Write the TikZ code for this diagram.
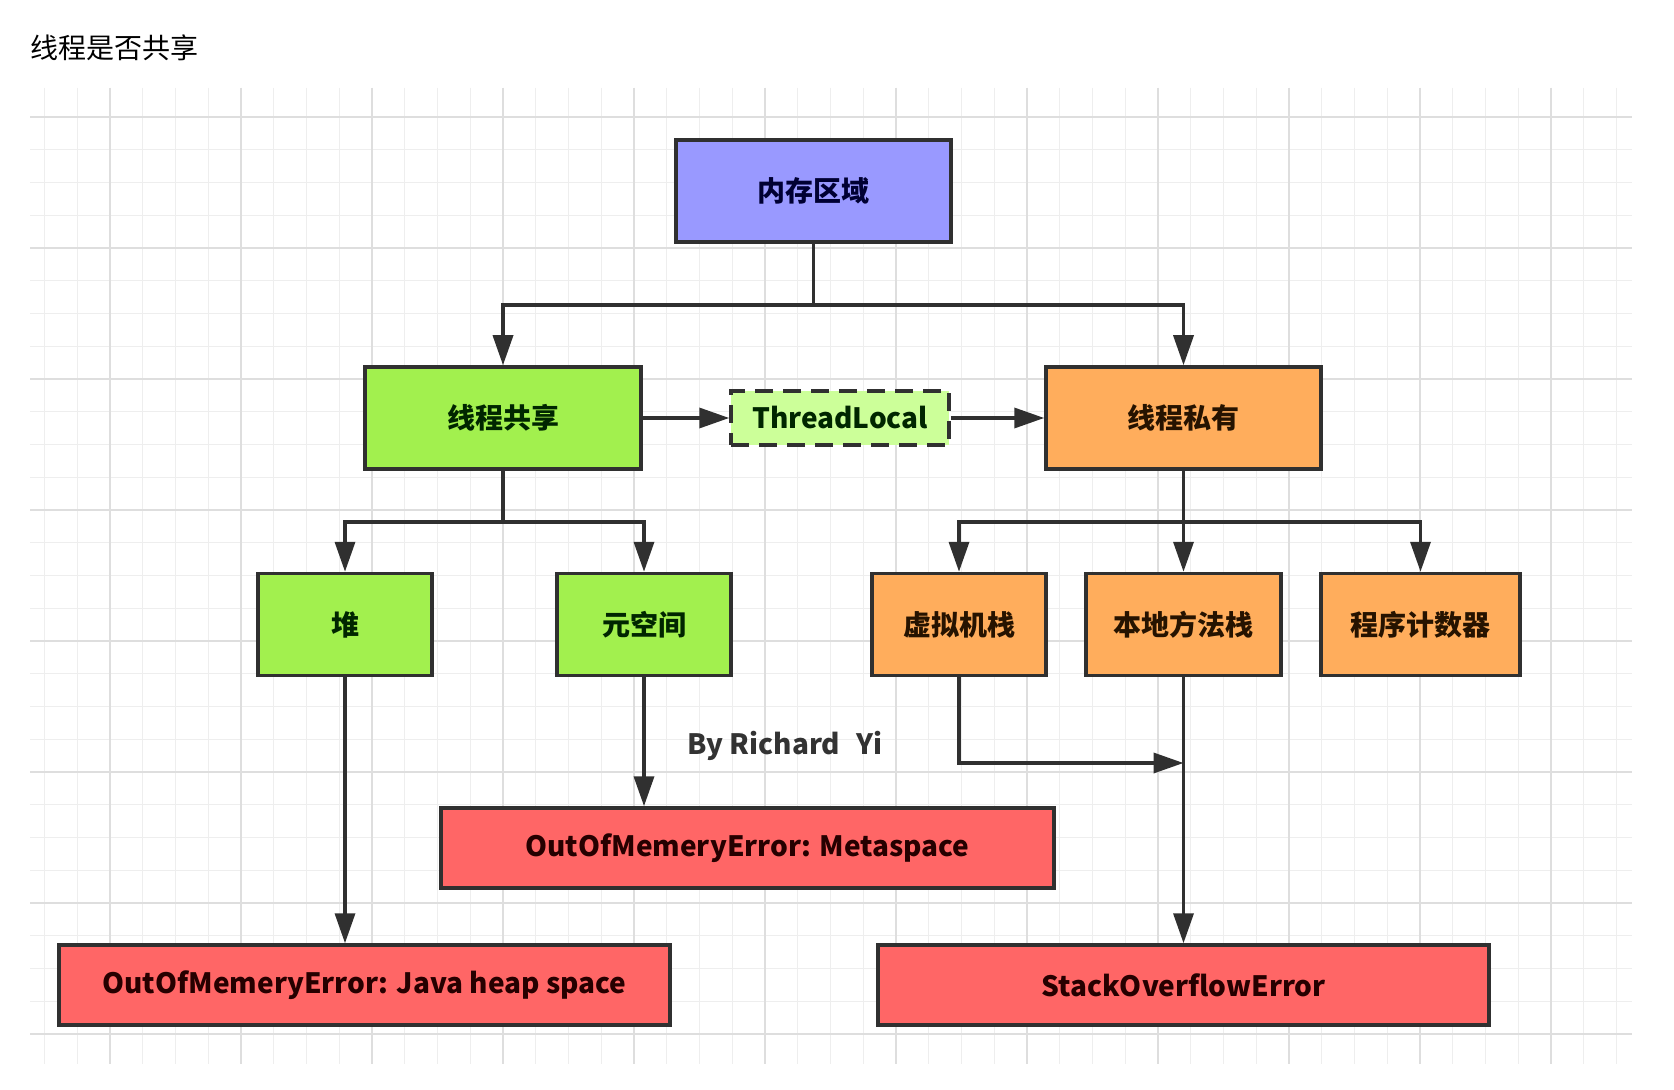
\documentclass[tikz,border=0pt]{standalone}
\usepackage{fontspec}
\setmainfont{Noto Sans CJK SC}
\usetikzlibrary{arrows.meta}
\definecolor{bluefill}{HTML}{9999FF}
\definecolor{greenfill}{HTML}{A2F04E}
\definecolor{lightgreen}{HTML}{CCFF99}
\definecolor{orangefill}{HTML}{FFAD5C}
\definecolor{redfill}{HTML}{FF6666}
\definecolor{edgecol}{HTML}{303030}
\definecolor{gridminor}{HTML}{EEEEEE}
\definecolor{gridmajor}{HTML}{DEDEDE}
\begin{document}
\begin{tikzpicture}[x=0.5pt,y=-0.5pt,
  box/.style={draw=edgecol,line width=1.75pt,rectangle,inner sep=0pt,
    font=\fontsize{14pt}{16pt}\selectfont\bfseries,minimum height=51pt},
  bluebox/.style={box,fill=bluefill,text=black!80!blue},
  greenbox/.style={box,fill=greenfill,text=black!85!green},
  orangebox/.style={box,fill=orangefill,text=black!85!orange},
  redbox/.style={box,fill=redfill,text=black!85!red,minimum height=40pt,minimum width=305.5pt},
  tlbox/.style={box,fill=lightgreen,text=black!85!green,dash pattern=on 9pt off 5pt,minimum height=27pt},
  conn/.style={draw=edgecol,line width=1.75pt},
  arr/.style={conn,-{Triangle[length=15pt,width=10pt]}},
  gmin/.style={draw=gridminor,line width=0.7pt},
  gmaj/.style={draw=gridmajor,line width=0.8pt}]
\useasboundingbox (0,0) rectangle (1674,1090);
\fill[white] (0,0) rectangle (1674,1090);
% grid
\foreach \i in {-2,...,46} \draw[gmin] ({110+32.75*\i},88) -- ({110+32.75*\i},1064);
\foreach \j in {0,...,28} \draw[gmin] (30,{117+32.75*\j}) -- (1632,{117+32.75*\j});
\foreach \i in {0,...,11} \draw[gmaj] ({110+131*\i},88) -- ({110+131*\i},1064);
\foreach \j in {0,...,7} \draw[gmaj] (30,{117+131*\j}) -- (1632,{117+131*\j});
% title
\node[anchor=west,font=\fontsize{14pt}{16pt}\selectfont,inner sep=0pt] (title) at (30,48) {线程是否共享};
% nodes
\node[bluebox,minimum width=137.5pt] (mem) at (813.5,191) {内存区域};
\node[greenbox,minimum width=138pt] (share) at (503,418) {线程共享};
\node[tlbox,minimum width=109pt] (tl) at (840,418) {ThreadLocal};
\node[orangebox,minimum width=137.5pt] (priv) at (1183.5,418) {线程私有};
\node[greenbox,minimum width=87pt] (heap) at (345,624.5) {堆};
\node[greenbox,minimum width=87pt] (meta) at (644,624.5) {元空间};
\node[orangebox,minimum width=87pt] (vm) at (959,624.5) {虚拟机栈};
\node[orangebox,minimum width=97.5pt] (native) at (1183.5,624.5) {本地方法栈};
\node[orangebox,minimum width=99.5pt] (pc) at (1420.5,624.5) {程序计数器};
\node[redbox,minimum width=306.5pt] (oommeta) at (747.5,848) {OutOfMemeryError: Metaspace};
\node[redbox] (oomheap) at (364.5,985) {OutOfMemeryError: Java heap space};
\node[redbox] (soe) at (1183.5,985) {StackOverflowError};
\node[font=\fontsize{14pt}{16pt}\selectfont\bfseries,text=black!80,inner sep=0pt] (by) at (785,746) {By Richard\hspace{0.35em} Yi};
% junctions
\coordinate (j1) at (813.5,305);
\coordinate (j2) at (503,522);
\coordinate (j3) at (1183.5,522);
\coordinate (j4) at (1183.5,763);
% connectors
\draw[conn] (mem.south) -- (j1);
\draw[arr] (j1) -| (share.north);
\draw[arr] (j1) -| (priv.north);
\draw[arr] (share.east) -- (tl.west);
\draw[arr] (tl.east) -- (priv.west);
\draw[conn] (share.south) -- (j2);
\draw[arr] (j2) -| (heap.north);
\draw[arr] (j2) -| (meta.north);
\draw[conn] (priv.south) -- (j3);
\draw[arr] (j3) -| (vm.north);
\draw[arr] (j3) -- (native.north);
\draw[arr] (j3) -| (pc.north);
\draw[arr] (heap.south) -- (heap.south |- oomheap.north);
\draw[arr] (meta.south) -- (meta.south |- oommeta.north);
\draw[arr] (native.south) -- (soe.north);
\draw[arr] (vm.south) |- (j4);
\end{tikzpicture}
\end{document}
